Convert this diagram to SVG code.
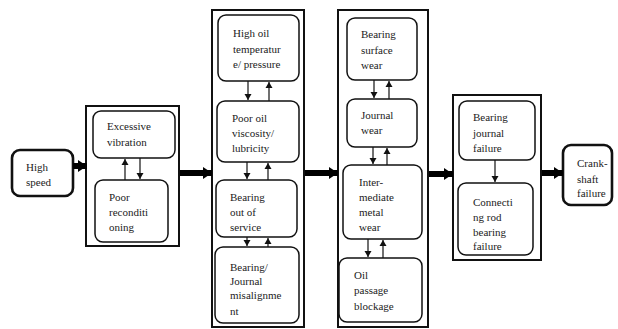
<svg xmlns="http://www.w3.org/2000/svg" width="618" height="329" viewBox="0 0 618 329">
<style>
.t{font-family:"Liberation Serif","Times New Roman",serif;font-size:11px;fill:#222}
.n{fill:#fff;stroke:#111;stroke-width:1.5}
.e{fill:#fff;stroke:#111;stroke-width:2.6}
.o{fill:none;stroke:#111;stroke-width:2}
.thin{stroke:#111;stroke-width:1.2;fill:none}
.thick{stroke:#000;stroke-width:6;fill:none}
</style>
<defs>
<marker id="sa" markerUnits="userSpaceOnUse" markerWidth="8" markerHeight="8" refX="6" refY="4" orient="auto"><path d="M0,0.5 L6,4 L0,7.5 Z" fill="#111"/></marker>
<marker id="ba" markerUnits="userSpaceOnUse" markerWidth="10" markerHeight="14" refX="9" refY="7" orient="auto"><path d="M0,1 L9,7 L0,13 Z" fill="#000"/></marker>
</defs>
<rect width="618" height="329" fill="#fff"/>

<g id="outer2"><rect class="o" x="86" y="106" width="93" height="140"/></g>
<g id="outer3"><rect class="o" x="212" y="10" width="92" height="317"/></g>
<g id="outer4"><rect class="o" x="338" y="10" width="90" height="317"/></g>
<g id="outer5"><rect class="o" x="453" y="95" width="88" height="165"/></g>

<g id="high-speed"><rect class="e" x="12" y="150" width="61" height="46" rx="8"/>
<text class="t" x="26" y="171">High</text><text class="t" x="26" y="186">speed</text></g>

<g id="excessive-vibration"><rect class="n" x="93" y="111" width="82" height="47" rx="8"/>
<text class="t" x="107" y="130">Excessive</text><text class="t" x="107" y="146">vibration</text></g>
<g id="poor-reconditioning"><rect class="n" x="95" y="180" width="73" height="62" rx="8"/>
<text class="t" x="109" y="201">Poor</text><text class="t" x="109" y="216">reconditi</text><text class="t" x="109" y="231">oning</text></g>

<g id="high-oil"><rect class="n" x="218" y="15" width="81" height="66" rx="8"/>
<text class="t" x="233" y="37">High oil</text><text class="t" x="233" y="53">temperatur</text><text class="t" x="233" y="68">e/ pressure</text></g>
<g id="poor-oil"><rect class="n" x="217" y="101" width="82" height="61" rx="8"/>
<text class="t" x="232" y="122">Poor oil</text><text class="t" x="232" y="137">viscosity/</text><text class="t" x="232" y="152">lubricity</text></g>
<g id="bearing-out"><rect class="n" x="216" y="180" width="81" height="57" rx="8"/>
<text class="t" x="230" y="201">Bearing</text><text class="t" x="230" y="216">out of</text><text class="t" x="230" y="231">service</text></g>
<g id="misalignment"><rect class="n" x="215" y="247" width="84" height="76" rx="8"/>
<text class="t" x="230" y="271">Bearing/</text><text class="t" x="230" y="285">Journal</text><text class="t" x="230" y="299">misalignme</text><text class="t" x="230" y="315">nt</text></g>

<g id="bearing-surface"><rect class="n" x="347" y="18" width="70" height="62" rx="8"/>
<text class="t" x="361" y="38">Bearing</text><text class="t" x="361" y="54">surface</text><text class="t" x="361" y="69">wear</text></g>
<g id="journal-wear"><rect class="n" x="347" y="99" width="70" height="48" rx="8"/>
<text class="t" x="361" y="119">Journal</text><text class="t" x="361" y="134">wear</text></g>
<g id="intermediate"><rect class="n" x="343" y="165" width="79" height="74" rx="8"/>
<text class="t" x="359" y="186">Inter-</text><text class="t" x="359" y="201">mediate</text><text class="t" x="359" y="216">metal</text><text class="t" x="359" y="231">wear</text></g>
<g id="oil-passage"><rect class="n" x="339" y="258" width="83" height="64" rx="8"/>
<text class="t" x="354" y="279">Oil</text><text class="t" x="354" y="294">passage</text><text class="t" x="354" y="310">blockage</text></g>

<g id="bearing-journal"><rect class="n" x="459" y="101" width="76" height="59" rx="8"/>
<text class="t" x="473" y="121">Bearing</text><text class="t" x="473" y="137">journal</text><text class="t" x="473" y="152">failure</text></g>
<g id="connecting-rod"><rect class="n" x="458" y="183" width="75" height="72" rx="8"/>
<text class="t" x="473" y="206">Connecti</text><text class="t" x="473" y="221">ng rod</text><text class="t" x="473" y="236">bearing</text><text class="t" x="473" y="250">failure</text></g>

<g id="crankshaft"><rect class="e" x="563" y="145" width="49" height="60" rx="8"/>
<text class="t" x="577" y="167">Crank-</text><text class="t" x="577" y="183">shaft</text><text class="t" x="577" y="197">failure</text></g>

<g id="connectors">
<line class="thick" x1="73" y1="166" x2="87" y2="166" marker-end="url(#ba)"/>
<line class="thick" x1="180" y1="173" x2="212" y2="173" marker-end="url(#ba)"/>
<line class="thick" x1="305" y1="173" x2="338" y2="173" marker-end="url(#ba)"/>
<line class="thick" x1="429" y1="174" x2="453" y2="174" marker-end="url(#ba)"/>
<line class="thick" x1="542" y1="173" x2="563" y2="173" marker-end="url(#ba)"/>

<line class="thin" x1="125" y1="180" x2="125" y2="159" marker-end="url(#sa)"/>
<line class="thin" x1="140" y1="158" x2="140" y2="179" marker-end="url(#sa)"/>

<line class="thin" x1="248" y1="81" x2="248" y2="100" marker-end="url(#sa)"/>
<line class="thin" x1="269" y1="101" x2="269" y2="82" marker-end="url(#sa)"/>
<line class="thin" x1="247" y1="162" x2="247" y2="179" marker-end="url(#sa)"/>
<line class="thin" x1="268" y1="180" x2="268" y2="163" marker-end="url(#sa)"/>
<line class="thin" x1="247" y1="237" x2="247" y2="246" marker-end="url(#sa)"/>
<line class="thin" x1="268" y1="247" x2="268" y2="238" marker-end="url(#sa)"/>

<line class="thin" x1="374" y1="80" x2="374" y2="98" marker-end="url(#sa)"/>
<line class="thin" x1="389" y1="99" x2="389" y2="81" marker-end="url(#sa)"/>
<line class="thin" x1="373" y1="147" x2="373" y2="164" marker-end="url(#sa)"/>
<line class="thin" x1="387" y1="165" x2="387" y2="148" marker-end="url(#sa)"/>
<line class="thin" x1="368" y1="239" x2="368" y2="257" marker-end="url(#sa)"/>
<line class="thin" x1="383" y1="258" x2="383" y2="240" marker-end="url(#sa)"/>

<line class="thin" x1="495" y1="160" x2="495" y2="182" marker-end="url(#sa)"/>
</g>
</svg>
